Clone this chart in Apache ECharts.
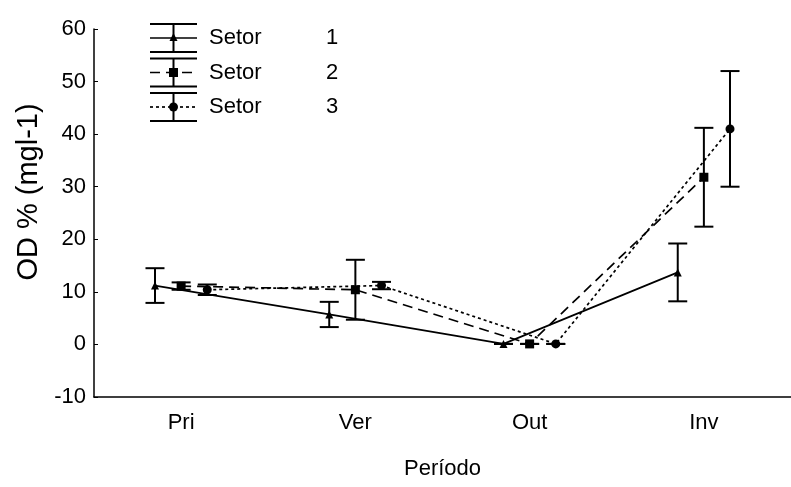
<!DOCTYPE html>
<html>
<head>
<meta charset="utf-8">
<script src="https://cdn.jsdelivr.net/npm/echarts@6/dist/echarts.min.js"></script>
<style>
html,body{margin:0;padding:0;background:#fff;}
#chart{width:791px;height:487px;}
</style>
</head>
<body>
<div id="chart"></div>
<script>
// ---- data ----
const categories = ['Pri', 'Ver', 'Out', 'Inv'];
const seriesNames = ['Setor      1', 'Setor      2', 'Setor      3'];
const setor1Mean = [11.2, 5.7, 0.1, 13.7];
const setor1Err  = [3.3, 2.4, 0, 5.5];
const setor2Mean = [11.1, 10.4, 0.1, 31.8];
const setor2Err  = [0.7, 5.7, 0, 9.4];
const setor3Mean = [10.4, 11.2, 0.1, 41.0];
const setor3Err  = [1.0, 0.7, 0, 11.0];
const yMin = -10, yMax = 60, yStep = 10;

// ---- styling ----
const FONT = '"Liberation Sans", Arial, Helvetica, sans-serif';
const FS = 22;
const means = [setor1Mean, setor2Mean, setor3Mean];
const errs = [setor1Err, setor2Err, setor3Err];
const offsets = [-0.15, 0, 0.15];
const symbols = ['triangle', 'rect', 'circle'];
const symbolSizes = [8, 9, 9];
const lineTypes = ['solid', [10, 6], [3, 3]];

const chart = echarts.init(document.getElementById('chart'), null, {renderer: 'canvas'});

const series = [];
means.forEach((m, s) => {
  series.push({
    type: 'line',
    name: seriesNames[s],
    xAxisIndex: 1,
    data: m.map((v, i) => [i + offsets[s], v]),
    symbol: symbols[s],
    symbolSize: symbolSizes[s],
    showSymbol: true,
    lineStyle: {color: '#000', width: 1.7, type: lineTypes[s]},
    itemStyle: {color: '#000'},
    animation: false,
    z: 3
  });
  series.push({
    type: 'custom',
    xAxisIndex: 1,
    data: m.map((v, i) => [i + offsets[s], v - errs[s][i], v + errs[s][i]]),
    renderItem: function (params, api) {
      const x = api.value(0);
      const lo = api.coord([x, api.value(1)]);
      const hi = api.coord([x, api.value(2)]);
      const hw = 9.5;
      const st = {stroke: '#000', lineWidth: 2};
      return {
        type: 'group',
        children: [
          {type: 'line', shape: {x1: lo[0], y1: lo[1], x2: hi[0], y2: hi[1]}, style: st},
          {type: 'line', shape: {x1: lo[0] - hw, y1: lo[1], x2: lo[0] + hw, y2: lo[1]}, style: st},
          {type: 'line', shape: {x1: hi[0] - hw, y1: hi[1], x2: hi[0] + hw, y2: hi[1]}, style: st}
        ]
      };
    },
    animation: false,
    silent: true,
    z: 2
  });
});

// legend drawn with graphic elements
const legendGraphics = [];
const lgX0 = 150, lgX1 = 197, lgCx = 173.5, lgY0 = 38, lgDy = 34.5, capH = 14;
seriesNames.forEach((n, s) => {
  const cy = lgY0 + s * lgDy;
  const st = {stroke: '#000', lineWidth: 2};
  legendGraphics.push(
    {type: 'line', shape: {x1: lgX0, y1: cy - capH, x2: lgX1, y2: cy - capH}, style: st},
    {type: 'line', shape: {x1: lgX0, y1: cy + capH, x2: lgX1, y2: cy + capH}, style: st},
    {type: 'line', shape: {x1: lgCx, y1: cy - capH, x2: lgCx, y2: cy + capH}, style: st},
    {type: 'line', shape: {x1: lgX0, y1: cy, x2: lgX1, y2: cy},
      style: {stroke: '#000', lineWidth: 1.7, lineDash: lineTypes[s] === 'solid' ? null : lineTypes[s]}}
  );
  if (s === 0) {
    legendGraphics.push({type: 'polygon', shape: {points: [[lgCx, cy - 5], [lgCx - 4, cy + 3], [lgCx + 4, cy + 3]]}, style: {fill: '#000'}});
  } else if (s === 1) {
    legendGraphics.push({type: 'rect', shape: {x: lgCx - 4.5, y: cy - 4.5, width: 9, height: 9}, style: {fill: '#000'}});
  } else {
    legendGraphics.push({type: 'circle', shape: {cx: lgCx, cy: cy, r: 4.5}, style: {fill: '#000'}});
  }
  const parts = n.split(/\s+/);
  legendGraphics.push(
    {type: 'text', x: 209, y: cy, style: {text: parts[0], font: FS + 'px ' + FONT, fill: '#000', verticalAlign: 'middle', align: 'left'}},
    {type: 'text', x: 332, y: cy, style: {text: parts[1], font: FS + 'px ' + FONT, fill: '#000', verticalAlign: 'middle', align: 'center'}}
  );
});

const axisLineStyle = {color: '#000', width: 1.5};

chart.setOption({
  backgroundColor: '#fff',
  animation: false,
  grid: {left: 94, right: -7, top: 29, bottom: 90, containLabel: false},
  xAxis: [
    {
      type: 'category',
      data: categories,
      boundaryGap: true,
      name: 'Período',
      nameLocation: 'middle',
      nameGap: 61,
      nameTextStyle: {fontFamily: FONT, fontSize: FS, color: '#000'},
      axisLine: {onZero: false, lineStyle: axisLineStyle},
      axisTick: {inside: true, length: 4, alignWithLabel: true, lineStyle: {color: '#000', width: 1}},
      axisLabel: {fontFamily: FONT, fontSize: FS, color: '#000', margin: 15},
      splitLine: {show: false}
    },
    {
      type: 'value',
      min: -0.5,
      max: 3.5,
      show: false,
      axisLine: {onZero: false},
      splitLine: {show: false}
    }
  ],
  yAxis: {
    type: 'value',
    min: yMin,
    max: yMax,
    interval: yStep,
    name: 'OD % (mgl-1)',
    nameLocation: 'middle',
    nameGap: 46,
    nameTextStyle: {fontFamily: FONT, fontSize: 29, color: '#000', padding: [0, 0, 0, 42]},
    axisLine: {show: true, onZero: false, lineStyle: axisLineStyle},
    axisTick: {show: true, inside: true, length: 4, lineStyle: {color: '#000', width: 1}},
    axisLabel: {fontFamily: FONT, fontSize: FS, color: '#000', margin: 8},
    splitLine: {show: false}
  },
  graphic: legendGraphics,
  series: series
});
</script>
</body>
</html>
